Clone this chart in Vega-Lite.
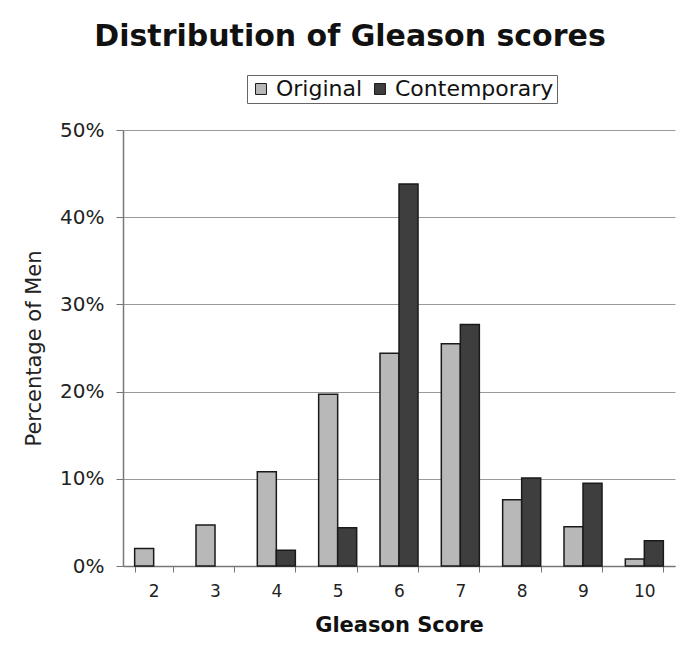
{
  "$schema": "https://vega.github.io/schema/vega-lite/v6.json",
  "width": 552,
  "height": 436,
  "autosize": "none",
  "padding": {"left": 123, "top": 130, "right": 25, "bottom": 85},
  "background": "white",
  "title": {
    "text": "Distribution of Gleason scores",
    "font": "DejaVu Sans",
    "fontSize": 30,
    "fontWeight": "bold",
    "color": "#111111",
    "anchor": "middle",
    "dx": -49,
    "offset": 23
  },
  "data": {
    "values": [
      {"score": "2", "series": "Original", "pct": 0.020},
      {"score": "3", "series": "Original", "pct": 0.047},
      {"score": "4", "series": "Original", "pct": 0.108},
      {"score": "5", "series": "Original", "pct": 0.197},
      {"score": "6", "series": "Original", "pct": 0.244},
      {"score": "7", "series": "Original", "pct": 0.255},
      {"score": "8", "series": "Original", "pct": 0.076},
      {"score": "9", "series": "Original", "pct": 0.045},
      {"score": "10", "series": "Original", "pct": 0.008},
      {"score": "4", "series": "Contemporary", "pct": 0.018},
      {"score": "5", "series": "Contemporary", "pct": 0.044},
      {"score": "6", "series": "Contemporary", "pct": 0.438},
      {"score": "7", "series": "Contemporary", "pct": 0.277},
      {"score": "8", "series": "Contemporary", "pct": 0.101},
      {"score": "9", "series": "Contemporary", "pct": 0.095},
      {"score": "10", "series": "Contemporary", "pct": 0.029}
    ]
  },
  "mark": {"type": "bar", "stroke": "#1a1a1a", "strokeWidth": 1.5},
  "encoding": {
    "x": {
      "field": "score",
      "type": "ordinal",
      "sort": ["2", "3", "4", "5", "6", "7", "8", "9", "10"],
      "scale": {"domain": ["2", "3", "4", "5", "6", "7", "8", "9", "10"], "paddingInner": 0.38, "paddingOuter": 0.19},
      "axis": {
        "title": "Gleason Score",
        "titleFont": "DejaVu Sans",
        "titleFontSize": 21,
        "titleFontWeight": "bold",
        "titleColor": "#111111",
        "titlePadding": 15,
        "labelFont": "DejaVu Sans",
        "labelFontSize": 17,
        "labelColor": "#222222",
        "labelAngle": 0,
        "labelPadding": 11,
        "tickBand": "extent",
        "tickColor": "#777777",
        "tickSize": 6,
        "domainColor": "#777777",
        "domainWidth": 1.5
      }
    },
    "xOffset": {
      "field": "series",
      "type": "nominal",
      "sort": ["Original", "Contemporary"],
      "scale": {"domain": ["Original", "Contemporary"], "paddingInner": 0, "paddingOuter": 0}
    },
    "y": {
      "field": "pct",
      "type": "quantitative",
      "scale": {"domain": [0, 0.5], "nice": false},
      "axis": {
        "title": "Percentage of Men",
        "titleFont": "DejaVu Sans",
        "titleFontSize": 21,
        "titleFontWeight": "normal",
        "titleColor": "#222222",
        "titlePadding": 15,
        "format": ".0%",
        "values": [0, 0.1, 0.2, 0.3, 0.4, 0.5],
        "labelFont": "DejaVu Sans",
        "labelFontSize": 20,
        "labelColor": "#222222",
        "labelPadding": 12,
        "tickColor": "#777777",
        "tickSize": 7,
        "domainColor": "#777777",
        "domainWidth": 1.5,
        "grid": true,
        "gridColor": "#999999",
        "gridWidth": 1
      }
    },
    "color": {
      "field": "series",
      "type": "nominal",
      "sort": ["Original", "Contemporary"],
      "scale": {"domain": ["Original", "Contemporary"], "range": ["#b8b8b8", "#3e3e3e"]},
      "legend": {
        "title": null,
        "orient": "none",
        "direction": "horizontal",
        "legendX": 124,
        "legendY": -55,
        "symbolType": "square",
        "symbolSize": 120,
        "symbolStrokeColor": "#1a1a1a",
        "symbolStrokeWidth": 1,
        "labelFont": "DejaVu Sans",
        "labelFontSize": 22,
        "labelColor": "#111111",
        "labelOffset": 4,
        "columnPadding": 6,
        "padding": 3,
        "strokeColor": "#666666",
        "fillColor": "white"
      }
    }
  },
  "config": {
    "view": {"stroke": null}
  }
}
